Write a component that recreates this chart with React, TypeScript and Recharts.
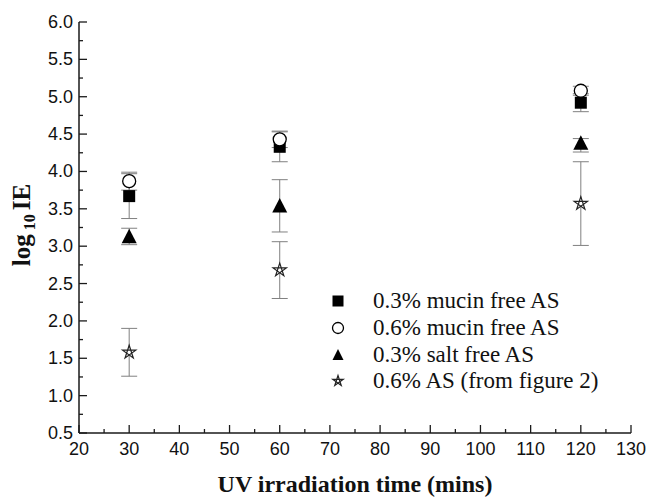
import React from 'react';
import { ScatterChart, Scatter, XAxis, YAxis, ErrorBar, Legend } from 'recharts';

document.body.style.margin = '0';

const times = [30, 60, 120];

// error values are [below, above]
const mucinFree03 = [3.67, 4.33, 4.92];
const mucinFree03Err = [[0.3, 0.3], [0.2, 0.2], [0.12, 0.12]];

const mucinFree06 = [3.87, 4.43, 5.08];
const mucinFree06Err = [[0.12, 0.12], [0.11, 0.11], [0.06, 0.06]];

const saltFree03 = [3.13, 3.54, 4.38];
const saltFree03Err = [[0.11, 0.11], [0.35, 0.35], [0.12, 0.06]];

const as06 = [1.58, 2.68, 3.57];
const as06Err = [[0.32, 0.32], [0.38, 0.38], [0.56, 0.56]];

const xTicks = [20, 25, 30, 35, 40, 45, 50, 55, 60, 65, 70, 75, 80, 85, 90, 95, 100, 105, 110, 115, 120, 125, 130];
const yTicks = [
  0.5, 0.75, 1.0, 1.25, 1.5, 1.75, 2.0, 2.25, 2.5, 2.75, 3.0, 3.25, 3.5, 3.75,
  4.0, 4.25, 4.5, 4.75, 5.0, 5.25, 5.5, 5.75, 6.0,
];

const AXIS = '#1a1a1a';
const ERR = '#808080';
const SANS = '"Liberation Sans", Arial, sans-serif';
const SERIF = '"Liberation Serif", "Times New Roman", serif';

const toPoints = (ys: number[], errs: number[][]) =>
  times.map((t, i) => ({ x: t, y: ys[i], err: errs[i] }));

// marker shapes
const Square = ({ cx, cy, size = 12 }: any) => (
  <rect x={cx - size / 2} y={cy - size / 2} width={size} height={size} fill="#000" />
);

const Circle = ({ cx, cy, size = 13 }: any) => (
  <circle cx={cx} cy={cy} r={size / 2} fill="#fff" stroke="#000" strokeWidth={1.3} />
);

const Triangle = ({ cx, cy, size = 15 }: any) => {
  const h = size * 0.9;
  return (
    <polygon
      points={`${cx},${cy - h / 2 - 1} ${cx - size / 2},${cy + h / 2} ${cx + size / 2},${cy + h / 2}`}
      fill="#000"
    />
  );
};

const Star = ({ cx, cy, size = 14 }: any) => {
  const r = size / 2;
  const pts = [0, 2, 4, 1, 3].map((k) => {
    const a = -Math.PI / 2 + (k * 2 * Math.PI) / 5;
    return `${cx + r * Math.cos(a)},${cy + r * Math.sin(a)}`;
  });
  return <polygon points={pts.join(' ')} fill="#fff" stroke="#222" strokeWidth={1.2} />;
};

const series = [
  { name: '0.3% mucin free AS', data: toPoints(mucinFree03, mucinFree03Err), Shape: Square },
  { name: '0.6% mucin free AS', data: toPoints(mucinFree06, mucinFree06Err), Shape: Circle },
  { name: '0.3% salt free AS', data: toPoints(saltFree03, saltFree03Err), Shape: Triangle },
  { name: '0.6% AS (from figure 2)', data: toPoints(as06, as06Err), Shape: Star },
];

const isMajorY = (v: number) => Math.abs(v * 2 - Math.round(v * 2)) < 1e-6;
const isMajorX = (v: number) => v % 10 === 0;

const LeftTick = ({ x, y, payload }: any) => {
  const major = isMajorY(payload.value);
  return (
    <g>
      <line x1={x} x2={x + (major ? 8 : 4)} y1={y} y2={y} stroke={AXIS} strokeWidth={1.3} />
      {major && (
        <text x={x - 6} y={y} textAnchor="end" dominantBaseline="central" fontFamily={SANS} fontSize={18} fill="#111">
          {payload.value.toFixed(1)}
        </text>
      )}
    </g>
  );
};

const RightTick = ({ x, y, payload }: any) => {
  const major = isMajorY(payload.value);
  return <line x1={x} x2={x - (major ? 8 : 4)} y1={y} y2={y} stroke={AXIS} strokeWidth={1.3} />;
};

const BottomTick = ({ x, y, payload }: any) => {
  const major = isMajorX(payload.value);
  return (
    <g>
      <line x1={x} x2={x} y1={y} y2={y - (major ? 8 : 4)} stroke={AXIS} strokeWidth={1.3} />
      {major && (
        <text x={x} y={y + 16} textAnchor="middle" dominantBaseline="central" fontFamily={SANS} fontSize={18} fill="#111">
          {payload.value}
        </text>
      )}
    </g>
  );
};

const XTitle = ({ viewBox }: any) => (
  <text
    x={viewBox.x + viewBox.width / 2}
    y={viewBox.y + 51}
    textAnchor="middle"
    dominantBaseline="central"
    fontFamily={SERIF}
    fontWeight="bold"
    fontSize={24}
    fill="#111"
  >
    UV irradiation time (mins)
  </text>
);

const YTitle = ({ viewBox }: any) => {
  const cx = viewBox.x + 30;
  const cy = 225;
  return (
    <text
      x={cx}
      y={cy}
      transform={`rotate(-90 ${cx} ${cy})`}
      textAnchor="middle"
      fontFamily={SERIF}
      fontWeight="bold"
      fontSize={25}
      fill="#111"
    >
      <tspan>log</tspan>
      <tspan fontSize={16} dx={4} dy={5}>10</tspan>
      <tspan dx={4} dy={-5}>IE</tspan>
    </text>
  );
};

const renderLegend = () => (
  <div style={{ fontFamily: SERIF, fontSize: 23, color: '#111' }}>
    {series.map((s) => {
      const Shape = s.Shape;
      return (
        <div key={s.name} style={{ display: 'flex', alignItems: 'center', height: 26.7 }}>
          <svg width={20} height={20} style={{ flex: 'none' }}>
            <Shape cx={10} cy={10} size={11} />
          </svg>
          <span style={{ marginLeft: 25, whiteSpace: 'nowrap' }}>{s.name}</span>
        </div>
      );
    })}
  </div>
);

export default function App() {
  return (
    <div style={{ width: 650, height: 500, background: '#fff' }}>
      <ScatterChart width={650} height={500} margin={{ top: 22, right: 19, bottom: 0, left: 0 }}>
        <XAxis
          type="number"
          dataKey="x"
          domain={[20, 130]}
          ticks={xTicks}
          interval={0}
          allowDataOverflow
          height={67}
          tickSize={0}
          tickMargin={0}
          tickLine={false}
          axisLine={{ stroke: AXIS, strokeWidth: 1.5 }}
          tick={<BottomTick />}
          label={<XTitle />}
        />
        <XAxis
          xAxisId="top"
          orientation="top"
          type="number"
          domain={[20, 130]}
          allowDataOverflow
          height={0}
          tick={false}
          tickLine={false}
          axisLine={{ stroke: AXIS, strokeWidth: 1.5 }}
        />
        <YAxis
          type="number"
          dataKey="y"
          domain={[0.5, 6]}
          ticks={yTicks}
          interval={0}
          allowDataOverflow
          width={79}
          tickSize={0}
          tickMargin={0}
          tickLine={false}
          axisLine={{ stroke: AXIS, strokeWidth: 1.5 }}
          tick={<LeftTick />}
          label={<YTitle />}
        />
        <YAxis
          yAxisId="right"
          orientation="right"
          type="number"
          domain={[0.5, 6]}
          ticks={yTicks}
          interval={0}
          allowDataOverflow
          width={0}
          tickSize={0}
          tickMargin={0}
          tickLine={false}
          axisLine={{ stroke: AXIS, strokeWidth: 1.5 }}
          tick={<RightTick />}
        />
        {series.map((s) => (
          <Scatter
            key={s.name}
            name={s.name}
            data={s.data}
            isAnimationActive={false}
            shape={(p: any) => <s.Shape cx={p.cx} cy={p.cy} />}
          >
            <ErrorBar dataKey="err" direction="y" width={8} stroke={ERR} strokeWidth={1} />
          </Scatter>
        ))}
        <Legend
          layout="vertical"
          align="center"
          verticalAlign="middle"
          wrapperStyle={{ left: 328, top: 288 }}
          content={renderLegend}
        />
      </ScatterChart>
    </div>
  );
}
